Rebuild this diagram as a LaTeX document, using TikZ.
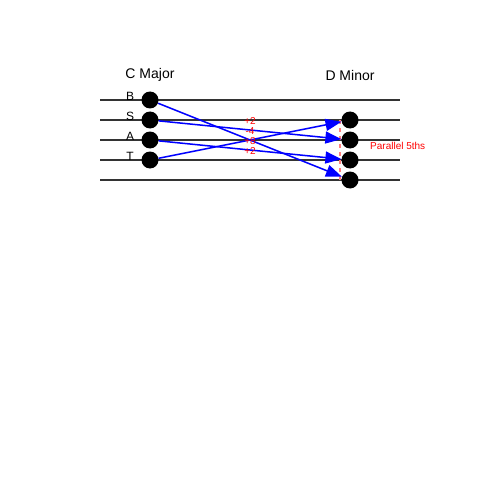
\documentclass[tikz,border=0pt]{standalone}
\usepackage{fontspec}
\setmainfont{Liberation Sans}
\usetikzlibrary{arrows.meta}
\definecolor{staff}{HTML}{333333}
\definecolor{fifthred}{HTML}{FF7F7F}
\tikzset{
  staffline/.style={draw=staff, line width=2pt},
  note/.style={circle, fill=black, minimum size=17pt, inner sep=0pt},
  voice/.style={font=\fontsize{12}{12}\selectfont, anchor=center},
  title/.style={font=\fontsize{14}{14}\selectfont},
  move/.style={draw=blue, line width=1.5pt, -{Triangle[length=16pt,width=12pt]}},
  interval/.style={text=red, font=\fontsize{10}{10}\selectfont, inner sep=0pt},
  fifths/.style={draw=fifthred, line width=2pt, dash pattern=on 4pt off 4pt}
}
\begin{document}
\begin{tikzpicture}[x=1pt, y=-1pt]
\useasboundingbox (0,0) rectangle (500,500);
% staff
\foreach \y in {100,120,140,160,180} \draw[staffline] (100,\y) -- (400,\y);
% titles
\node[title] (cmaj) at (150,75) {C Major};
\node[title] (dmin) at (350,75) {D Minor};
% voice labels
\node[voice] (lb) at (130,96) {B};
\node[voice] (ls) at (130,116) {S};
\node[voice] (la) at (130,136) {A};
\node[voice] (lt) at (130,156) {T};
% parallel fifths
\coordinate (f1) at (340,120);
\coordinate (f2) at (340,182);
\draw[fifths] (f1) -- (f2);
\node[text=red, font=\fontsize{10}{10}\selectfont, anchor=west, inner sep=0pt] (p5) at (370,146) {Parallel 5ths};
% notes
\node[note] (l1) at (150,100) {};
\node[note] (l2) at (150,120) {};
\node[note] (l3) at (150,140) {};
\node[note] (l4) at (150,160) {};
\node[note] (r1) at (350,120) {};
\node[note] (r2) at (350,140) {};
\node[note] (r3) at (350,160) {};
\node[note] (r4) at (350,180) {};
% voice leading
\draw[move] (l1) -- (r4);
\draw[move] (l2) -- (r2);
\draw[move] (l3) -- (r3);
\draw[move] (l4) -- (r1);
% interval labels
\node[interval] (i1) at (250,121.5) {+2};
\node[interval] (i2) at (250,131.5) {-4};
\node[interval] (i3) at (250,141.5) {+8};
\node[interval] (i4) at (250,151.5) {+2};
\end{tikzpicture}
\end{document}
